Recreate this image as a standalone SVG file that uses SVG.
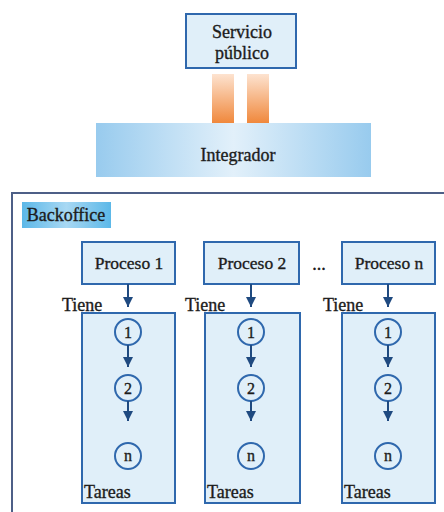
<svg xmlns="http://www.w3.org/2000/svg" width="444" height="512" viewBox="0 0 444 512" font-family="'Liberation Serif', 'Times New Roman', 'DejaVu Serif', serif">
  <defs>
    <linearGradient id="bandGrad" x1="0" y1="0" x2="1" y2="0">
      <stop offset="0" stop-color="#98cbee"/>
      <stop offset="0.5" stop-color="#e2f0fa"/>
      <stop offset="1" stop-color="#98cbee"/>
    </linearGradient>
    <linearGradient id="pipeGrad" x1="0" y1="0" x2="0" y2="1">
      <stop offset="0" stop-color="#fde3d0"/>
      <stop offset="1" stop-color="#f0883c"/>
    </linearGradient>
    <linearGradient id="tagGrad" x1="0" y1="0" x2="1" y2="0">
      <stop offset="0" stop-color="#5cb8e8"/>
      <stop offset="0.5" stop-color="#a8d8f3"/>
      <stop offset="1" stop-color="#5cb8e8"/>
    </linearGradient>
    <marker id="arrow" viewBox="0 0 10 10" refX="10" refY="5" markerWidth="10" markerHeight="10" markerUnits="userSpaceOnUse" orient="auto">
      <path d="M0,0 L10,5 L0,10 z" fill="#1f4a80"/>
    </marker>
  </defs>
  <style>
    text { fill: #1c1c1c; stroke: #1c1c1c; stroke-width: 0.35; }
    .lbl { font-size: 18px; text-anchor: middle; }
    .proc { font-size: 17.5px; text-anchor: middle; }
    .box { fill: #e0eff9; stroke: #2f68ad; stroke-width: 2; }
    .circ { fill: #e0eff9; stroke: #2f68ad; stroke-width: 2; }
    .num { font-size: 16px; text-anchor: middle; }
    .small { font-size: 18px; }
    .link { stroke: #1f4a80; stroke-width: 2; fill: none; marker-end: url(#arrow); }
  </style>

  <rect width="444" height="512" fill="#ffffff"/>

  <!-- public service -->
  <g id="servicio">
    <rect class="box" x="186" y="14" width="110" height="54"/>
    <text class="lbl" x="242" y="38">Servicio</text>
    <text class="lbl" x="242" y="59">público</text>
  </g>

  <!-- pipes to the integrator -->
  <g id="canales">
    <rect x="212" y="74" width="22" height="49" fill="url(#pipeGrad)"/>
    <rect x="247" y="74" width="22" height="49" fill="url(#pipeGrad)"/>
  </g>

  <g id="integrador">
    <rect x="96" y="123" width="275" height="54" fill="url(#bandGrad)"/>
    <text class="lbl" x="238" y="161">Integrador</text>
  </g>

  <!-- backoffice container -->
  <g id="backoffice">
    <rect x="12" y="193" width="440" height="330" fill="#ffffff" stroke="#4d5f87" stroke-width="2"/>
    <rect x="22" y="202" width="89" height="26" fill="url(#tagGrad)"/>
    <text class="lbl" x="66" y="221">Backoffice</text>
  </g>

  <!-- processes -->
  <g id="proceso1">
    <rect class="box" x="82" y="242" width="93" height="42"/>
    <text class="proc" x="129" y="269">Proceso 1</text>
  </g>
  <g id="proceso2">
    <rect class="box" x="204" y="242" width="95" height="42"/>
    <text class="proc" x="252" y="269">Proceso 2</text>
  </g>
  <text class="lbl" x="319" y="270">...</text>
  <g id="proceson">
    <rect class="box" x="342" y="242" width="93" height="42"/>
    <text class="proc" x="389" y="269">Proceso n</text>
  </g>

  <!-- task lists -->
  <g id="tareas1">
    <rect class="box" x="82" y="313" width="93" height="190"/>
    <circle class="circ" cx="128" cy="332" r="13"/>
    <text class="num" x="128" y="338">1</text>
    <circle class="circ" cx="128" cy="388" r="13"/>
    <text class="num" x="128" y="394">2</text>
    <circle class="circ" cx="128" cy="456" r="13"/>
    <text class="num" x="128" y="461">n</text>
    <text class="small" x="84" y="498">Tareas</text>
  </g>
  <g id="tareas2">
    <rect class="box" x="205" y="313" width="95" height="190"/>
    <circle class="circ" cx="251" cy="332" r="13"/>
    <text class="num" x="251" y="338">1</text>
    <circle class="circ" cx="251" cy="388" r="13"/>
    <text class="num" x="251" y="394">2</text>
    <circle class="circ" cx="251" cy="456" r="13"/>
    <text class="num" x="251" y="461">n</text>
    <text class="small" x="207" y="498">Tareas</text>
  </g>
  <g id="tarean">
    <rect class="box" x="342" y="313" width="93" height="190"/>
    <circle class="circ" cx="388" cy="332" r="13"/>
    <text class="num" x="388" y="338">1</text>
    <circle class="circ" cx="388" cy="388" r="13"/>
    <text class="num" x="388" y="394">2</text>
    <circle class="circ" cx="388" cy="456" r="13"/>
    <text class="num" x="388" y="461">n</text>
    <text class="small" x="344" y="498">Tareas</text>
  </g>

  <!-- relation labels -->
  <text class="small" x="62" y="311">Tiene</text>
  <text class="small" x="185" y="311">Tiene</text>
  <text class="small" x="323" y="311">Tiene</text>

  <!-- connectors -->
  <g id="conectores">
    <line class="link" x1="128" y1="284" x2="128" y2="307"/>
    <line class="link" x1="251" y1="284" x2="251" y2="307"/>
    <line class="link" x1="388" y1="284" x2="388" y2="307"/>
    <line class="link" x1="128" y1="345" x2="128" y2="367"/>
    <line class="link" x1="251" y1="345" x2="251" y2="367"/>
    <line class="link" x1="388" y1="345" x2="388" y2="367"/>
    <line class="link" x1="128" y1="401" x2="128" y2="421"/>
    <line class="link" x1="251" y1="401" x2="251" y2="421"/>
    <line class="link" x1="388" y1="401" x2="388" y2="421"/>
  </g>
</svg>
